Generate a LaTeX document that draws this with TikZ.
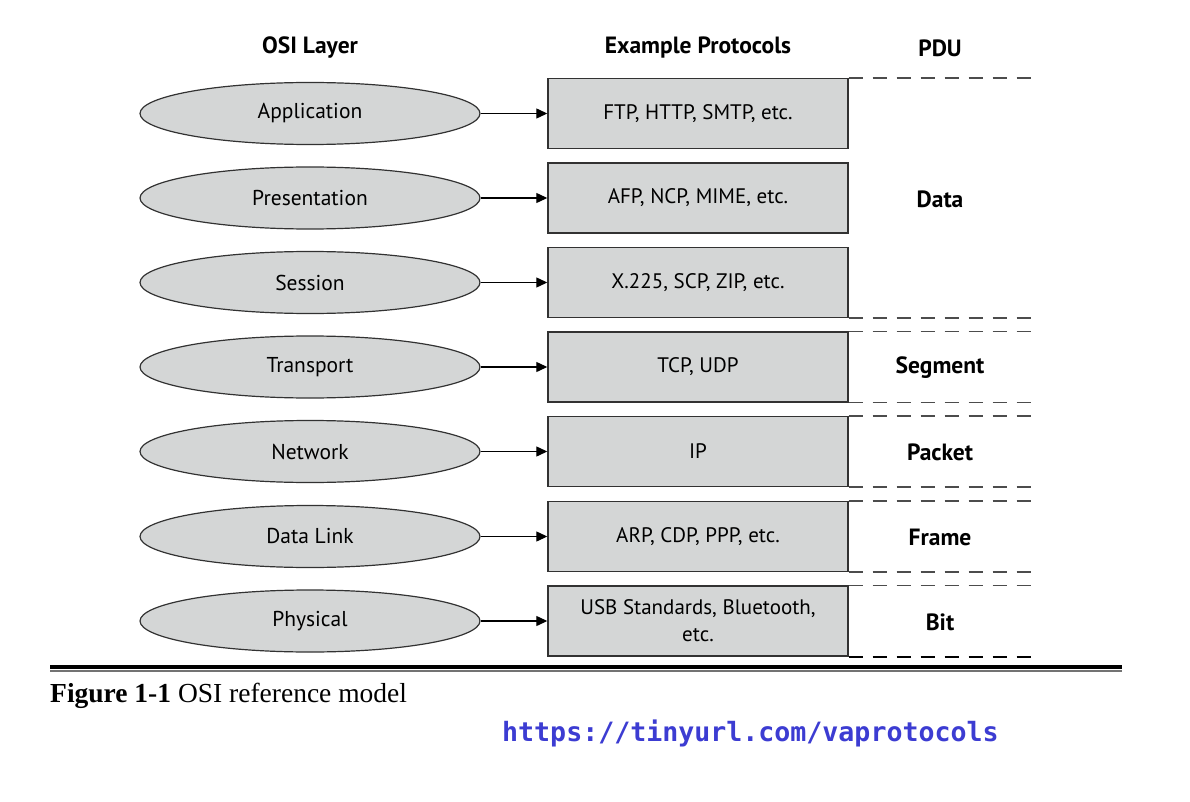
\documentclass[tikz,border=0pt]{standalone}
\usepackage{fontspec}
\setmainfont{PT Sans}
\newfontfamily\capfont{Liberation Serif}
\newfontfamily\urlfont{DejaVu Sans Mono}
\usetikzlibrary{shapes.geometric,arrows.meta}
\definecolor{fillgray}{RGB}{212,214,214}
\definecolor{edgegray}{RGB}{50,50,50}
\definecolor{urlblue}{RGB}{60,60,210}
\tikzset{
  layer/.style={ellipse, draw=edgegray, line width=1.2pt, fill=fillgray, minimum width=340pt, minimum height=62pt, inner sep=0pt, font=\fontsize{21.5}{25}\selectfont},
  proto/.style={rectangle, draw=edgegray, line width=1.4pt, fill=fillgray, minimum width=300pt, minimum height=70pt, inner sep=0pt, align=center, font=\fontsize{21}{27}\selectfont},
  link/.style={-{Triangle[length=11pt,width=10pt]}, line width=1.2pt, black},
  sep/.style={dash pattern=on 14pt off 10pt, line width=1.5pt, black!70},
  head/.style={font=\bfseries\fontsize{23.5}{26}\selectfont},
  pdu/.style={font=\bfseries\fontsize{23.5}{26}\selectfont}
}
\begin{document}
\begin{tikzpicture}[x=1pt,y=-1pt]
\useasboundingbox (0,0) rectangle (1190,802);
% headers
\node[head] (h1) at (310,48) {OSI Layer};
\node[head] (h2) at (698,48) {Example Protocols};
\node[head] (h3) at (940,48) {PDU};
% layers
\foreach \n/\t/\p/\y in {a/Application/{FTP, HTTP, SMTP, etc.}/113.5,
                          b/Presentation/{AFP, NCP, MIME, etc.}/198,
                          c/Session/{X.225, SCP, ZIP, etc.}/282.5,
                          d/Transport/{TCP, UDP}/367,
                          e/Network/{IP}/451.5,
                          f/Data Link/{ARP, CDP, PPP, etc.}/536.5}{
  \node[layer] (L\n) at (310,\y) {\t};
  \node[proto] (P\n) at (698,\y) {\p};
  \draw[link] (L\n.east) -- (P\n.west);
}
\node[layer] (Lg) at (310,621) {Physical};
\node[proto] (Pg) at (698,621) {USB Standards, Bluetooth,\\etc.};
\draw[link] (Lg.east) -- (Pg.west);
% dashed separators
\coordinate (e0) at (1033,0);
\draw[sep] (Pa.north east) -- (Pa.north east -| e0);
\draw[sep] (Pc.south east) -- (Pc.south east -| e0);
\draw[sep] (Pd.north east) -- (Pd.north east -| e0);
\draw[sep] (Pd.south east) -- (Pd.south east -| e0);
\draw[sep] (Pe.north east) -- (Pe.north east -| e0);
\draw[sep] (Pe.south east) -- (Pe.south east -| e0);
\draw[sep] (Pf.north east) -- (Pf.north east -| e0);
\draw[sep] (Pf.south east) -- (Pf.south east -| e0);
\draw[sep] (Pg.north east) -- (Pg.north east -| e0);
\draw[sep, black, line width=2pt] (Pg.south east) -- (Pg.south east -| e0);
% PDU labels
\node[pdu] (dData) at (940,199) {Data};
\node[pdu] (dSeg) at (940,368) {Segment};
\node[pdu] (dPkt) at (940,452) {Packet};
\node[pdu] (dFrm) at (940,537) {Frame};
\node[pdu] (dBit) at (940,622) {Bit};
% rule
\coordinate (r1) at (50,667);
\coordinate (r2) at (1122,667);
\draw[line width=4pt, black] (r1) -- (r2);
\draw[line width=2pt, black!55] ([yshift=-3.5pt]r1) -- ([yshift=-3.5pt]r2);
% caption
\node[anchor=west, inner sep=0pt, font=\capfont\fontsize{27.5}{30}\selectfont] (cap) at (50,696) {\textbf{Figure 1-1} OSI reference model};
\node[anchor=west, inner sep=0pt, text=urlblue, font=\urlfont\bfseries\fontsize{26.6}{30}\selectfont] (url) at (502,733) {https://tinyurl.com/vaprotocols};
\end{tikzpicture}
\end{document}
